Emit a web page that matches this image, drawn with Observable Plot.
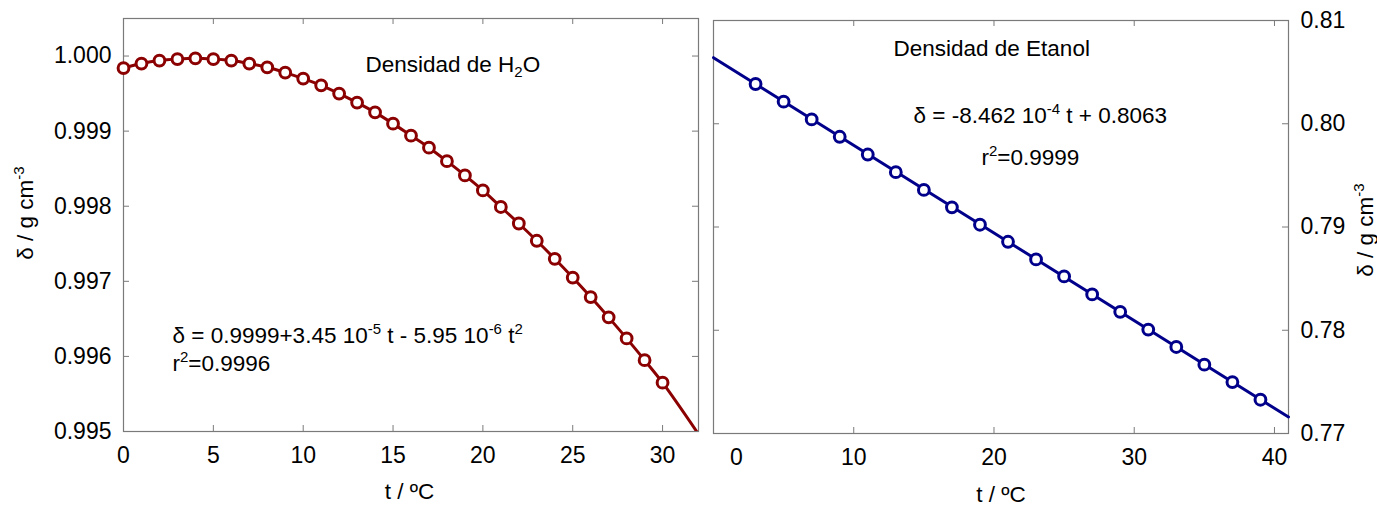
<!DOCTYPE html>
<html><head><meta charset="utf-8">
<script src="https://cdn.jsdelivr.net/npm/d3@7"></script>
<script src="https://cdn.jsdelivr.net/npm/@observablehq/plot@0.6"></script>
<style>
html,body{margin:0;padding:0;background:#fff;}
#chart{position:relative;width:1377px;height:506px;overflow:hidden;}
#chart svg{position:absolute;top:0;}
</style></head><body><div id="chart"></div>
<script>
// ---- data ----
const waterT = [0,1,2,3,4,5,6,7,8,9,10,11,12,13,14,15,16,17,18,19,20,21,22,23,24,25,26,27,28,29,30];
const waterD = [0.99984,0.99990,0.99994,0.99996,0.99997,0.99996,0.99994,0.99990,0.99985,0.99978,0.99970,0.99961,0.99950,0.99938,0.99925,0.99910,0.99894,0.99878,0.99860,0.99841,0.99821,0.99799,0.99777,0.99754,0.99730,0.99705,0.99679,0.99652,0.99624,0.99595,0.99565];
const waterCurveEndT = [31.9];
const waterCurveEndD = [0.99500];

const ethanolT = [3,5,7,9,11,13,15,17,19,21,23,25,27,29,31,33,35,37,39];
const ethanolD = [0.80385,0.80214,0.80042,0.79874,0.79702,0.79531,0.79359,0.79191,0.79022,0.78857,0.78686,0.78521,0.78347,0.78178,0.78007,0.77838,0.77667,0.77498,0.77327];
const ethanolFitT = [0, 41];
const ethanolFitD = [0.8064, 0.7716];

const waterXTicks = [0,5,10,15,20,25,30];
const waterYTicks = [0.995,0.996,0.997,0.998,0.999,1.000];
const ethanolXTicks = [10,20,30,40];
const ethanolZeroTick = [0];
const ethanolYTicks = [0.77,0.78,0.79,0.80,0.81];

const xTitle = "t / ºC";
const yTitle = "δ / g cm^{-3}";
const waterTitle = "Densidad de H_{2}O";
const waterEq = "δ = 0.9999+3.45 10^{-5} t - 5.95 10^{-6} t^{2}";
const waterR2 = "r^{2}=0.9996";
const ethanolTitle = "Densidad de Etanol";
const ethanolEq = "δ = -8.462 10^{-4} t + 0.8063";
const ethanolR2 = "r^{2}=0.9999";

// ---- build tables ----
const water = waterT.map((t, i) => ({t, d: waterD[i]}));
const waterCurve = water.concat(waterCurveEndT.map((t, i) => ({t, d: waterCurveEndD[i]})));
const ethanol = ethanolT.map((t, i) => ({t, d: ethanolD[i]}));
const ethanolFit = ethanolFitT.map((t, i) => ({t, d: ethanolFitD[i]}));

const FONT = "'Liberation Sans', Arial, sans-serif";
const FS = 22.5;     // annotation / titles
const FT = 23;       // tick labels
const GRAY = "#7a7a7a";
const RED = "#8b0000";
const BLUE = "#00008b";
const H = 506;

function frameTicks(xt, yt, pw, ph) {
  const tl = 6;
  return [
    Plot.tickX(xt, {x: d => d, insetTop: ph - tl, stroke: GRAY, strokeWidth: 1}),
    Plot.tickX(xt, {x: d => d, insetBottom: ph - tl, stroke: GRAY, strokeWidth: 1}),
    Plot.tickY(yt, {y: d => d, insetRight: pw - tl, stroke: GRAY, strokeWidth: 1}),
    Plot.tickY(yt, {y: d => d, insetLeft: pw - tl, stroke: GRAY, strokeWidth: 1})
  ];
}
function label(str, opts) {
  return Plot.text([str], {text: d => d, fontSize: FS, fill: "black", ...opts});
}

// ---- left panel: water ----
const L = {width: 706, mt: 18, mb: 75, ml: 123, mr: 8};
const Lpw = L.width - L.ml - L.mr, Lph = H - L.mt - L.mb;
const left = Plot.plot({
  width: L.width, height: H,
  marginTop: L.mt, marginBottom: L.mb, marginLeft: L.ml, marginRight: L.mr,
  style: {fontFamily: FONT, fontSize: FS + "px", background: "white", color: "black", overflow: "visible"},
  x: {domain: [0, 32]},
  y: {domain: [0.995, 1.0005]},
  marks: [
    ...frameTicks(waterXTicks, waterYTicks, Lpw, Lph),
    Plot.frame({stroke: GRAY, strokeWidth: 1.2}),
    Plot.axisX(waterXTicks, {anchor: "bottom", tickSize: 0, tickPadding: 15, label: null, fontSize: FT, fill: "black", tickFormat: d3.format("d")}),
    Plot.axisY(waterYTicks, {anchor: "left", tickSize: 0, tickPadding: 12, label: null, fontSize: FT, fill: "black", tickFormat: d3.format(".3f")}),
    Plot.line(waterCurve, {x: "t", y: "d", stroke: RED, strokeWidth: 3, curve: "catmull-rom", clip: true}),
    Plot.dot(water, {x: "t", y: "d", r: 5.4, stroke: RED, strokeWidth: 3, fill: "white"}),
    label(waterTitle, {frameAnchor: "top-left", dx: 242, dy: 46, textAnchor: "start", lineAnchor: "middle"}),
    label(waterEq, {frameAnchor: "top-left", dx: 49, dy: 317, textAnchor: "start", lineAnchor: "middle"}),
    label(waterR2, {frameAnchor: "top-left", dx: 49, dy: 345, textAnchor: "start", lineAnchor: "middle"}),
    label(xTitle, {frameAnchor: "bottom", dx: -1.5, dy: 60, textAnchor: "middle", lineAnchor: "middle"}),
    label(yTitle, {frameAnchor: "left", dx: -98, dy: -12, rotate: -90, textAnchor: "middle", lineAnchor: "middle"})
  ]
});

// ---- right panel: ethanol ----
const R = {width: 671, mt: 20, mb: 73, ml: 7, mr: 89};
const Rpw = R.width - R.ml - R.mr, Rph = H - R.mt - R.mb;
const right = Plot.plot({
  width: R.width, height: H,
  marginTop: R.mt, marginBottom: R.mb, marginLeft: R.ml, marginRight: R.mr,
  style: {fontFamily: FONT, fontSize: FS + "px", background: "white", color: "black", overflow: "visible"},
  x: {domain: [0, 41]},
  y: {domain: [0.77, 0.81]},
  marks: [
    ...frameTicks(ethanolXTicks, ethanolYTicks, Rpw, Rph),
    Plot.frame({stroke: GRAY, strokeWidth: 1.2}),
    Plot.axisX(ethanolXTicks, {anchor: "bottom", tickSize: 0, tickPadding: 15, label: null, fontSize: FT, fill: "black", tickFormat: d3.format("d")}),
    Plot.text(ethanolZeroTick, {x: d => d, text: d => String(d), frameAnchor: "bottom", dx: 23, dy: 15, lineAnchor: "top", fontSize: FT, fill: "black"}),
    Plot.axisY(ethanolYTicks, {anchor: "right", tickSize: 0, tickPadding: 12, label: null, fontSize: FT, fill: "black", tickFormat: d3.format(".2f")}),
    Plot.line(ethanolFit, {x: "t", y: "d", stroke: BLUE, strokeWidth: 3}),
    Plot.dot(ethanol, {x: "t", y: "d", r: 5.4, stroke: BLUE, strokeWidth: 3, fill: "white"}),
    label(ethanolTitle, {frameAnchor: "top-left", dx: 180, dy: 28, textAnchor: "start", lineAnchor: "middle"}),
    label(ethanolEq, {frameAnchor: "top-left", dx: 200, dy: 95, textAnchor: "start", lineAnchor: "middle"}),
    label(ethanolR2, {frameAnchor: "top-left", dx: 268, dy: 137, textAnchor: "start", lineAnchor: "middle"}),
    label(xTitle, {frameAnchor: "bottom", dx: 0, dy: 61, textAnchor: "middle", lineAnchor: "middle"}),
    label(yTitle, {frameAnchor: "right", dx: 77, dy: 3, rotate: -90, textAnchor: "middle", lineAnchor: "middle"})
  ]
});

// ---- superscripts / subscripts ----
function richText(svg) {
  const NS = "http://www.w3.org/2000/svg";
  svg.querySelectorAll("text").forEach(t => {
    if (t.children.length) return;
    const s = t.textContent;
    if (!/[\^_]\{/.test(s)) return;
    t.textContent = "";
    const re = /([\^_])\{([^}]*)\}/g;
    let last = 0, m;
    const add = (str, dy, size) => {
      const ts = document.createElementNS(NS, "tspan");
      ts.textContent = str;
      if (dy) ts.setAttribute("dy", dy);
      if (size) ts.setAttribute("font-size", size);
      t.appendChild(ts);
    };
    let pending = 0;
    while ((m = re.exec(s))) {
      if (m.index > last) { add(s.slice(last, m.index), pending || null, null); pending = 0; }
      const shift = m[1] === "^" ? -8.5 : 5;
      add(m[2], shift + pending, 15);
      pending = -shift;
      last = re.lastIndex;
    }
    if (last < s.length) add(s.slice(last), pending || null, null);
  });
}
richText(left); richText(right);

left.style.left = "0px";
right.style.left = "706px";
const chart = document.getElementById("chart");
chart.appendChild(left);
chart.appendChild(right);
</script></body></html>
